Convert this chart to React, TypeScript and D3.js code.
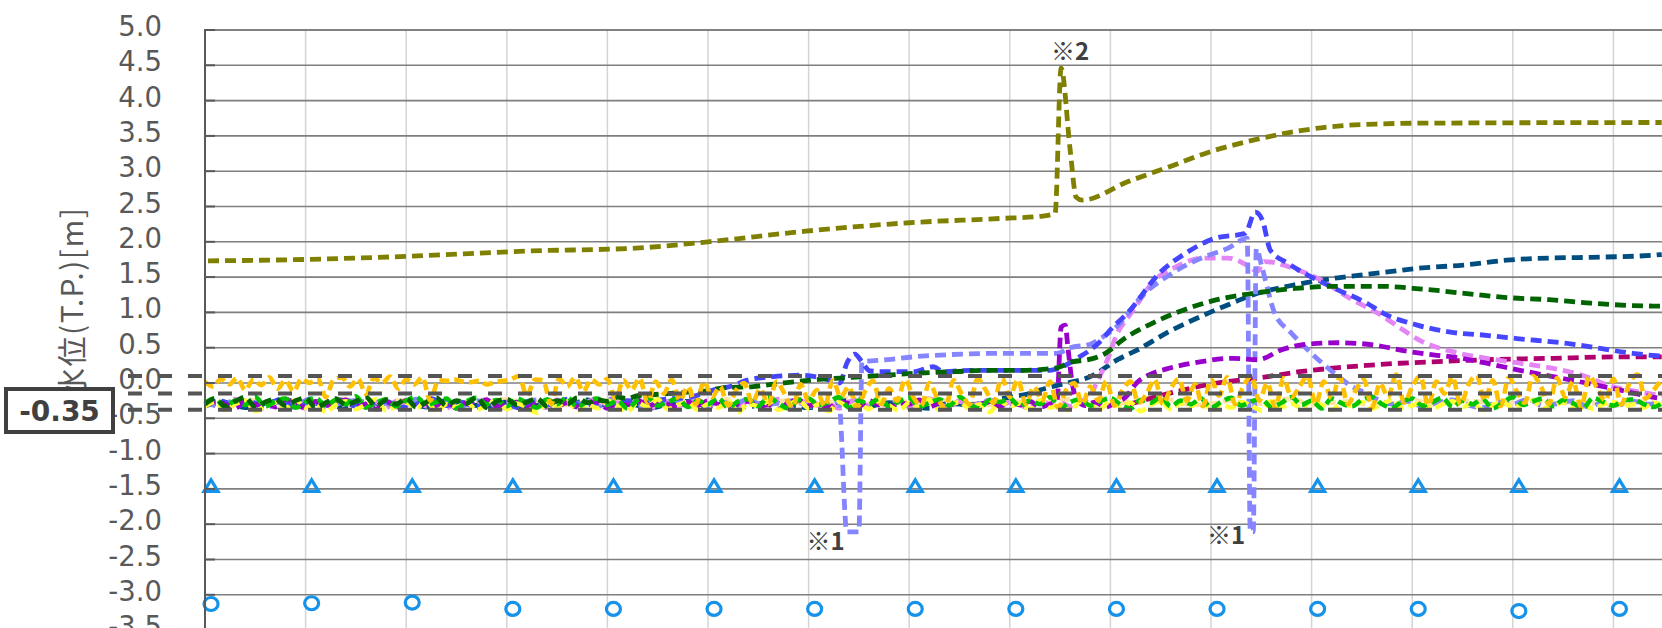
import React from "react";
import * as d3 from "d3";

const WIDTH = 1662;
const HEIGHT = 628;

// ---- axis ticks ----
const yTickValues = [5, 4.5, 4, 3.5, 3, 2.5, 2, 1.5, 1, 0.5, 0, -0.5, -1, -1.5, -2, -2.5, -3, -3.5];
const yTickLabels = ["5.0", "4.5", "4.0", "3.5", "3.0", "2.5", "2.0", "1.5", "1.0", "0.5", "0.0", "-0.5", "-1.0", "-1.5", "-2.0", "-2.5", "-3.0", "-3.5"];
const xGridTicks = [0, 1, 2, 3, 4, 5, 6, 7, 8, 9, 10, 11, 12, 13, 14];
const yTitle = "水位(T.P.)[m]";

// ---- reference levels ----
const refLevels = [0.1, -0.15, -0.38];
const refLabel = "-0.35";

// ---- markers ----
const markerTimes = [0.06, 1.06, 2.06, 3.06, 4.06, 5.06, 6.06, 7.06, 8.06, 9.06, 10.06, 11.06, 12.06, 13.06, 14.06];
const triangleValues = [-1.5, -1.5, -1.5, -1.5, -1.5, -1.5, -1.5, -1.5, -1.5, -1.5, -1.5, -1.5, -1.5, -1.5, -1.5];
const circleValues = [-3.13, -3.12, -3.11, -3.2, -3.2, -3.2, -3.2, -3.2, -3.2, -3.2, -3.2, -3.2, -3.2, -3.23, -3.2];

// ---- annotations ----
const notes = [
  { text: "※2", t: 8.41, v: 4.58 },
  { text: "※1", t: 5.98, v: -2.37 },
  { text: "※1", t: 9.96, v: -2.28 },
];

// ---- smooth series (time, value) ----
const olivePoints: [number, number][] = [
  [0.03, 1.73], [1.0, 1.75], [1.94, 1.79], [3.23, 1.87], [4.28, 1.91], [5.0, 2.0], [5.97, 2.15], [7.0, 2.27],
  [7.9, 2.33], [8.3, 2.36], [8.45, 2.4], [8.51, 4.46], [8.6, 3.3], [8.66, 2.63], [8.72, 2.59], [9.17, 2.85],
  [9.58, 3.06], [10.0, 3.28], [10.42, 3.44], [10.83, 3.56], [11.26, 3.64], [11.68, 3.67], [12.1, 3.68], [14.48, 3.69],
];

const blueTrend: [number, number][] = [
  [4.82, -0.2], [5.05, -0.1], [5.22, -0.05], [5.39, 0.04], [5.65, 0.09], [5.91, 0.11], [6.16, 0.06], [6.31, 0.0],
  [6.38, 0.28], [6.46, 0.41], [6.53, 0.3], [6.61, 0.17], [6.78, 0.16], [7.04, 0.16], [7.24, 0.23], [7.34, 0.16],
  [7.6, 0.18], [8.4, 0.18], [8.47, 0.2], [8.67, 0.35], [8.87, 0.55], [9.03, 0.8], [9.17, 0.99], [9.49, 1.56],
  [9.75, 1.84], [10.04, 2.05], [10.34, 2.12], [10.44, 2.42], [10.51, 2.31], [10.59, 1.88], [10.76, 1.7], [11.0, 1.5],
  [11.26, 1.32], [11.55, 1.13], [11.71, 0.99], [12.05, 0.82], [12.38, 0.72], [12.7, 0.68], [13.04, 0.63],
  [13.54, 0.56], [13.87, 0.49], [14.19, 0.42], [14.48, 0.38],
];

const lightBlueTrend: [number, number][] = [
  [6.38, -2.11], [6.5, -2.11], [6.53, 0.3], [6.78, 0.33], [7.04, 0.37], [7.37, 0.4], [7.9, 0.42], [8.47, 0.42],
  [8.6, 0.5], [8.8, 0.55], [8.9, 0.63], [9.1, 0.85], [9.28, 1.18], [9.62, 1.56], [9.92, 1.78], [10.17, 1.91],
  [10.36, 2.05], [10.39, -2.11], [10.42, -2.11], [10.45, 1.9], [10.51, 1.62], [10.63, 1.0], [10.79, 0.72],
  [10.94, 0.5], [11.09, 0.3], [11.24, 0.12], [11.38, -0.03], [11.53, -0.14], [11.68, -0.25],
];

const pinkTrend: [number, number][] = [
  [8.83, -0.1], [8.97, 0.33], [9.07, 0.71], [9.17, 0.92], [9.26, 1.1], [9.41, 1.41], [9.66, 1.65], [9.92, 1.77],
  [10.17, 1.77], [10.38, 1.65], [10.46, 1.58], [10.53, 1.72], [10.83, 1.62], [11.09, 1.46], [11.38, 1.2],
  [11.68, 0.97], [11.88, 0.78], [12.08, 0.6], [12.41, 0.44], [12.74, 0.35], [13.07, 0.28], [13.39, 0.21],
  [13.73, 0.09], [13.94, -0.03], [14.23, -0.12], [14.48, -0.18],
];

const darkGreenTrend: [number, number][] = [
  [4.4, -0.17], [4.6, -0.15], [4.8, -0.13], [4.95, -0.12], [5.15, -0.07], [5.45, -0.05], [5.75, 0.0], [6.1, 0.05],
  [6.43, 0.08], [6.76, 0.11], [7.1, 0.14], [7.45, 0.16], [7.77, 0.18], [8.11, 0.18], [8.45, 0.21], [8.62, 0.3],
  [8.78, 0.33], [8.95, 0.42], [9.12, 0.61], [9.45, 0.87], [9.78, 1.06], [10.06, 1.18], [10.42, 1.27], [10.84, 1.34],
  [11.26, 1.37], [11.68, 1.37], [12.1, 1.33], [12.52, 1.27], [12.94, 1.21], [13.36, 1.18], [13.78, 1.13],
  [14.4, 1.09], [14.48, 1.09],
];

const tealTrend: [number, number][] = [
  [8.3, -0.1], [8.57, 0.0], [8.8, 0.09], [9.07, 0.33], [9.27, 0.47], [9.56, 0.71], [9.99, 1.0], [10.19, 1.12],
  [10.42, 1.25], [10.83, 1.39], [11.26, 1.49], [11.68, 1.56], [12.1, 1.63], [12.51, 1.67], [12.94, 1.74],
  [13.36, 1.77], [13.78, 1.78], [14.4, 1.81], [14.48, 1.82],
];

const purpleTrend: [number, number][] = [
  [8.47, -0.24], [8.51, 0.79], [8.55, 0.82], [8.58, 0.47], [8.62, 0.0], [8.67, -0.24], [8.75, -0.32], [8.85, -0.27],
  [8.95, -0.34], [9.05, -0.28], [9.15, -0.2], [9.26, 0.0], [9.39, 0.12], [9.56, 0.2], [9.89, 0.3], [10.22, 0.35],
  [10.46, 0.33], [10.72, 0.48], [10.95, 0.55], [11.28, 0.57], [11.61, 0.54], [11.95, 0.45], [12.21, 0.4],
  [12.45, 0.36], [12.74, 0.28], [13.07, 0.18], [13.4, 0.09], [13.73, 0.0], [14.07, -0.1], [14.39, -0.2], [14.48, -0.22],
];

const magentaTrend: [number, number][] = [
  [9.19, -0.3], [9.72, -0.1], [10.06, 0.0], [10.47, 0.07], [10.88, 0.16], [11.21, 0.21], [11.55, 0.25],
  [11.88, 0.28], [12.21, 0.3], [12.74, 0.33], [13.4, 0.35], [14.07, 0.37], [14.48, 0.37],
];

// ---- noisy readings (evenly spaced samples) ----
const orangeValues = [
  0.02, -0.05, 0.06, -0.02, 0.07, -0.1, 0.05, -0.03, 0.08, -0.08,
  0.04, -0.12, 0.06, 0.0, 0.07, -0.2, 0.05, 0.08, -0.05, 0.06,
  -0.15, 0.07, 0.0, 0.09, -0.08, 0.05, -0.02, 0.08, -0.25, 0.04,
  0.03, 0.05, 0.02, 0.01, 0.03, -0.02, 0.01, 0.03, 0.05, 0.1,
  -0.18, 0.05, 0.04, -0.3, 0.06, -0.05, 0.08, -0.12, 0.05, -0.02,
  0.06, -0.22, 0.04, -0.1, 0.07, -0.28, 0.02, -0.15, 0.05, -0.25,
  -0.05, -0.3, 0.02, -0.2, -0.05, -0.32, -0.1, 0.0, -0.28, -0.08,
  -0.3, 0.02, -0.15, -0.35, -0.02, -0.25, -0.1, -0.33, 0.04, -0.2,
  -0.05, -0.35, -0.12, 0.03, -0.3, -0.08, -0.25, 0.05, -0.2, -0.32,
  0.0, -0.22, -0.35, 0.04, -0.15, -0.3, 0.06, -0.1, -0.28, 0.08,
  -0.2, 0.05, -0.3, -0.05, -0.25, 0.02, -0.35, -0.1, 0.0, -0.3,
  -0.05, -0.25, 0.03, -0.32, -0.1, 0.02, -0.28, -0.15, 0.05, -0.3,
  -0.08, 0.06, -0.25, -0.02, -0.33, 0.05, -0.18, 0.08, -0.3, -0.05,
  0.1, -0.25, 0.0, -0.35, 0.07, -0.2, -0.05, 0.1, -0.3, 0.02,
  -0.22, 0.08, -0.3, -0.1, 0.05, -0.35, 0.0, -0.2, 0.12, -0.28,
  -0.05, 0.1, -0.32, 0.02, -0.15, 0.09, -0.3, -0.02, 0.11, -0.25,
  0.04, -0.33, 0.08, -0.12, -0.28, 0.1, -0.05, -0.3, 0.07, -0.2,
  0.02, -0.35, 0.1, -0.08, -0.25, 0.06, -0.3, 0.0, 0.12, -0.22, -0.1, 0.05,
];

const greenValues = [
  -0.28, -0.22, -0.34, -0.25, -0.31, -0.2, -0.33, -0.26, -0.22, -0.35,
  -0.27, -0.21, -0.32, -0.24, -0.3, -0.19, -0.35, -0.28, -0.23, -0.33,
  -0.25, -0.2, -0.31, -0.27, -0.22, -0.36, -0.26, -0.21, -0.3, -0.24,
  -0.33, -0.22, -0.28, -0.35, -0.23, -0.3, -0.2, -0.34, -0.26, -0.22,
  -0.31, -0.25, -0.36, -0.24, -0.2, -0.32, -0.27, -0.22, -0.34, -0.25,
  -0.3, -0.21, -0.35, -0.26, -0.23, -0.33, -0.2, -0.29, -0.36, -0.24,
  -0.22, -0.31, -0.27, -0.2, -0.35, -0.25, -0.3, -0.22, -0.33, -0.26,
  -0.21, -0.34, -0.28, -0.23, -0.32, -0.2, -0.3, -0.36, -0.24, -0.27,
  -0.22, -0.33, -0.25, -0.3, -0.2, -0.35, -0.27, -0.23, -0.32, -0.26,
  -0.21, -0.31, -0.36, -0.24, -0.28, -0.2, -0.33, -0.25, -0.3, -0.22,
  -0.35, -0.27, -0.21, -0.32, -0.26, -0.23, -0.34, -0.28, -0.2, -0.31,
  -0.25, -0.36, -0.22, -0.29, -0.33, -0.24, -0.2, -0.3, -0.35, -0.26,
  -0.22, -0.32, -0.27, -0.21, -0.34, -0.25, -0.3, -0.23, -0.36, -0.28,
  -0.2, -0.31, -0.26, -0.22, -0.33, -0.24, -0.29, -0.35, -0.21, -0.27,
  -0.32, -0.25, -0.23, -0.3, -0.34, -0.26,
];

const yellowValues = [
  -0.33, -0.27, -0.38, -0.3, -0.25, -0.4, -0.32, -0.28, -0.36, -0.24,
  -0.35, -0.29, -0.41, -0.31, -0.26, -0.37, -0.3, -0.23, -0.39, -0.33,
  -0.28, -0.36, -0.25, -0.4, -0.3, -0.34, -0.27, -0.38, -0.31, -0.24,
  -0.37, -0.29, -0.35, -0.42, -0.28, -0.33, -0.26, -0.39, -0.3, -0.36,
  -0.25, -0.32, -0.4, -0.28, -0.34, -0.23, -0.37, -0.31, -0.27, -0.38,
  -0.3, -0.35, -0.25, -0.41, -0.29, -0.33, -0.26, -0.38, -0.32, -0.24,
  -0.36, -0.3, -0.4, -0.27, -0.34, -0.29, -0.37, -0.25, -0.32, -0.39,
  -0.28, -0.35, -0.23, -0.38, -0.31, -0.27, -0.36, -0.3, -0.41, -0.26,
  -0.33, -0.29, -0.37, -0.24, -0.35, -0.3, -0.39, -0.27, -0.32, -0.36,
  -0.25, -0.34, -0.28, -0.4, -0.31, -0.26, -0.37, -0.29, -0.33, -0.24,
  -0.38, -0.3, -0.35, -0.27, -0.32, -0.39, -0.26, -0.34, -0.29, -0.36,
  -0.25, -0.31, -0.38, -0.28, -0.33, -0.27, -0.36, -0.3, -0.24, -0.35,
  -0.32, -0.28, -0.37, -0.3, -0.26, -0.34, -0.29, -0.38, -0.31, -0.27,
  -0.35, -0.3, -0.25, -0.36, -0.32, -0.28, -0.34, -0.29, -0.37, -0.3,
  -0.27, -0.33, -0.3, -0.35, -0.28, -0.32,
];

const paleValues = [
  -0.26, -0.3, -0.23, -0.28, -0.32, -0.25, -0.29, -0.22, -0.31, -0.27,
  -0.24, -0.3, -0.26, -0.32, -0.28, -0.23, -0.29, -0.25, -0.31, -0.27,
  -0.3, -0.24, -0.28, -0.32, -0.26, -0.29, -0.23, -0.31, -0.27, -0.25,
  -0.3, -0.28, -0.22, -0.29, -0.32, -0.26, -0.3, -0.24, -0.28, -0.31,
  -0.25, -0.29, -0.27, -0.23, -0.3, -0.32, -0.26, -0.28, -0.24, -0.31,
  -0.29, -0.25, -0.3, -0.27, -0.22, -0.31, -0.28, -0.26, -0.32, -0.29,
  -0.24, -0.3, -0.27, -0.25, -0.31, -0.28, -0.23, -0.3, -0.26, -0.29,
  -0.32, -0.27, -0.25,
];

const darkGreenNoise = [
  -0.3, -0.22, -0.33, -0.26, -0.2, -0.34, -0.27, -0.23, -0.32, -0.25,
  -0.21, -0.35, -0.28, -0.22, -0.31, -0.26, -0.2, -0.33, -0.24, -0.3,
  -0.22, -0.34, -0.27, -0.21, -0.32, -0.25, -0.29, -0.2, -0.35, -0.26,
  -0.23, -0.31, -0.27, -0.22, -0.33, -0.25, -0.3, -0.21, -0.28, -0.24,
  -0.26, -0.2, -0.22, -0.18,
];

const blueNoise = [
  -0.3, -0.25, -0.34, -0.27, -0.32, -0.23, -0.35, -0.28, -0.31, -0.24,
  -0.33, -0.29, -0.26, -0.35, -0.3, -0.22, -0.32, -0.27, -0.34, -0.25,
  -0.3, -0.36, -0.26, -0.31, -0.23, -0.33, -0.28, -0.3, -0.25, -0.27,
  -0.24, -0.22,
];

const lightBlueNoise = [
  -0.27, -0.33, -0.24, -0.3, -0.36, -0.26, -0.31, -0.22, -0.34, -0.28,
  -0.25, -0.32, -0.29, -0.35, -0.23, -0.3, -0.27, -0.33, -0.25, -0.31,
  -0.36, -0.28, -0.24, -0.32, -0.26, -0.3, -0.34, -0.22, -0.29, -0.33,
  -0.27, -0.24, -0.31, -0.35, -0.26, -0.3, -0.23, -0.32, -0.28, -0.25,
  -0.33, -0.29, -0.26,
];

const lightBlueTail = [
  -0.3, -0.26, -0.33, -0.28, -0.24, -0.31, -0.35, -0.27, -0.3, -0.23,
  -0.32, -0.29, -0.25, -0.34, -0.28, -0.31, -0.26, -0.3, -0.27,
];

const pinkNoise = [
  -0.31, -0.26, -0.34, -0.23, -0.29, -0.35, -0.27, -0.32, -0.24, -0.3,
  -0.36, -0.28, -0.25, -0.33, -0.29, -0.22, -0.31, -0.27, -0.35, -0.26,
  -0.3, -0.24, -0.33, -0.28, -0.36, -0.25, -0.31, -0.29, -0.23, -0.34,
  -0.27, -0.32, -0.26, -0.3, -0.35, -0.24, -0.29, -0.33, -0.27, -0.22,
  -0.31, -0.28, -0.34, -0.25, -0.3, -0.36, -0.26, -0.32, -0.29, -0.24,
  -0.33, -0.27, -0.3, -0.35, -0.25, -0.31, -0.28, -0.23, -0.34, -0.29,
  -0.26, -0.32, -0.3, -0.36, -0.27, -0.24, -0.33, -0.29, -0.31, -0.25,
  -0.35, -0.28, -0.22, -0.3, -0.34, -0.26, -0.32, -0.29, -0.24, -0.33,
  -0.27, -0.31, -0.36, -0.25, -0.3, -0.28, -0.33, -0.26, -0.2,
];

const purpleNoise = [
  -0.33, -0.27, -0.3, -0.36, -0.25, -0.31, -0.28, -0.34, -0.23, -0.3,
  -0.35, -0.26, -0.32, -0.29, -0.24, -0.33, -0.3, -0.37, -0.27, -0.31,
  -0.25, -0.34, -0.29, -0.32, -0.26, -0.36, -0.28, -0.3, -0.24, -0.33,
  -0.31, -0.27, -0.35, -0.29, -0.25, -0.32, -0.28, -0.34, -0.3, -0.26,
  -0.36, -0.29, -0.31, -0.24, -0.33, -0.28, -0.3, -0.35, -0.27, -0.32,
  -0.25, -0.3, -0.34, -0.29, -0.26, -0.33, -0.31, -0.37, -0.28, -0.24,
  -0.32, -0.3, -0.35, -0.27, -0.29, -0.33, -0.25, -0.31, -0.36, -0.28,
  -0.3, -0.24, -0.34, -0.29, -0.32, -0.26, -0.35, -0.3, -0.27, -0.33,
  -0.29, -0.31, -0.26, -0.34, -0.3,
];

const tealNoise = [
  -0.32, -0.27, -0.35, -0.29, -0.24, -0.33, -0.3, -0.36, -0.26, -0.31,
  -0.28, -0.34, -0.25, -0.3, -0.33, -0.27, -0.35, -0.29, -0.31, -0.24,
  -0.32, -0.28, -0.36, -0.3, -0.26, -0.33, -0.29, -0.34, -0.27, -0.31,
  -0.35, -0.3, -0.25, -0.33, -0.28, -0.32, -0.36, -0.29, -0.31, -0.26,
  -0.2, -0.15,
];

type P = [number, number];
const sampled = (values: number[], start: number, step: number): P[] =>
  values.map((v, i) => [start + i * step, v] as P);

const FONT_NUM = "'DejaVu Sans', Verdana, sans-serif";
const FONT_JP = "'Noto Sans CJK JP', 'Noto Sans', sans-serif";

export default function App() {
  const x = d3.scaleLinear().domain([0, 14.483]).range([205, 1662]);
  const y = d3.scaleLinear().domain([-3.5, 5]).range([630.1, 30]);
  const line = d3
    .line<P>()
    .x((d) => x(d[0]))
    .y((d) => y(d[1]))
    .curve(d3.curveMonotoneX);

  const TW = 4.8; // trend line width
  const NW = 4.6; // noisy line width
  const series = [
    { pts: sampled(paleValues, 0, 0.2), color: "#FFE0A6", w: NW, dash: "10,5" },
    { pts: [...sampled(tealNoise, 0, 0.2), ...tealTrend], color: "#004E80", w: TW, dash: "11,6" },
    { pts: magentaTrend, color: "#B0006E", w: TW, dash: "11,6" },
    { pts: [...sampled(pinkNoise, 0, 0.1), ...pinkTrend], color: "#E585F5", w: TW, dash: "11,6" },
    {
      pts: [...sampled(lightBlueNoise, 0, 0.15), ...lightBlueTrend, ...sampled(lightBlueTail, 11.8, 0.15)],
      color: "#8585FF",
      w: TW,
      dash: "11,6",
    },
    { pts: [...sampled(blueNoise, 0, 0.15), ...blueTrend], color: "#4646FF", w: TW, dash: "11,6" },
    { pts: [...sampled(purpleNoise, 0, 0.1), ...purpleTrend], color: "#9A00CC", w: TW, dash: "11,6" },
    { pts: sampled(yellowValues, 0, 0.1), color: "#FFFF33", w: NW, dash: "10,5" },
    { pts: sampled(greenValues, 0, 0.1), color: "#00C400", w: NW, dash: "10,5" },
    { pts: [...sampled(darkGreenNoise, 0, 0.1), ...darkGreenTrend], color: "#006400", w: TW, dash: "11,6" },
    { pts: sampled(orangeValues, 0, 0.08), color: "#FFC000", w: NW, dash: "10,5" },
    { pts: olivePoints, color: "#808000", w: TW, dash: "11,6" },
  ];

  const markerColor = "#1592EA";

  return (
    <svg
      width={WIDTH}
      height={HEIGHT}
      viewBox={`0 0 ${WIDTH} ${HEIGHT}`}
      style={{ position: "absolute", left: 0, top: 0, background: "#fff", display: "block" }}
    >
      <rect x={0} y={0} width={WIDTH} height={HEIGHT} fill="#ffffff" />

      {/* vertical grid */}
      {xGridTicks.slice(1).map((t) => (
        <line key={`vx${t}`} x1={x(t)} x2={x(t)} y1={y(5)} y2={HEIGHT} stroke="#d4d4d4" strokeWidth={1.5} />
      ))}

      {/* horizontal grid */}
      {yTickValues.slice(1).map((v) => (
        <line key={`hy${v}`} x1={x(0)} x2={WIDTH} y1={y(v)} y2={y(v)} stroke="#7f7f7f" strokeWidth={1.6} />
      ))}
      <line x1={x(0)} x2={WIDTH} y1={y(5)} y2={y(5)} stroke="#595959" strokeWidth={1.6} />

      {/* y axis title */}
      <text
        transform={`translate(70,398) rotate(-90)`}
        textAnchor="start"
        dominantBaseline="central"
        fontFamily={FONT_JP}
        fontSize={30}
        textLength={190}
        lengthAdjust="spacing"
        fill="#595959"
      >
        {yTitle}
      </text>

      {/* y tick labels */}
      {yTickValues.map((v, i) => (
        <text
          key={`yl${v}`}
          x={162}
          y={y(v) - 4}
          textAnchor="end"
          dominantBaseline="central"
          fontFamily={FONT_NUM}
          fontSize={27.5}
          fill="#595959"
        >
          {yTickLabels[i]}
        </text>
      ))}

      {/* series */}
      <g fill="none" strokeLinejoin="round">
        {series.map((s, i) => (
          <path key={`s${i}`} d={line(s.pts) || ""} stroke={s.color} strokeWidth={s.w} strokeDasharray={s.dash} />
        ))}
      </g>

      {/* reference dashed levels */}
      {refLevels.map((v) => (
        <line
          key={`ref${v}`}
          x1={128}
          x2={WIDTH}
          y1={y(v)}
          y2={y(v)}
          stroke="#555555"
          strokeWidth={4}
          strokeDasharray="14,16"
        />
      ))}

      {/* markers */}
      {markerTimes.map((t, i) => {
        const cx = x(t);
        const cy = y(triangleValues[i]);
        return (
          <path
            key={`tri${i}`}
            d={`M${cx},${cy - 9} L${cx + 7},${cy + 2.5} L${cx - 7},${cy + 2.5} Z`}
            fill="none"
            stroke={markerColor}
            strokeWidth={3.2}
            strokeLinejoin="miter"
          />
        );
      })}
      {markerTimes.map((t, i) => (
        <ellipse
          key={`cir${i}`}
          cx={x(t)}
          cy={y(circleValues[i])}
          rx={7}
          ry={6.5}
          fill="none"
          stroke={markerColor}
          strokeWidth={3.2}
        />
      ))}

      {/* axis spine and ticks */}
      <line x1={x(0)} x2={x(0)} y1={y(5) - 1} y2={HEIGHT} stroke="#595959" strokeWidth={2} />
      {yTickValues.map((v) => (
        <line key={`tk${v}`} x1={x(0)} x2={x(0) + 10} y1={y(v)} y2={y(v)} stroke="#595959" strokeWidth={2} />
      ))}

      {/* annotations */}
      {notes.map((n, i) => (
        <text
          key={`n${i}`}
          x={x(n.t)}
          y={y(n.v)}
          fontFamily={FONT_JP}
          fontWeight="bold"
          fontSize={24}
          fill="#404040"
        >
          {n.text}
        </text>
      ))}

      {/* reference label box */}
      <rect x={6} y={389} width={107} height={43} fill="#ffffff" stroke="#404040" strokeWidth={4} />
      <text
        x={59.5}
        y={411}
        textAnchor="middle"
        dominantBaseline="central"
        fontFamily={FONT_NUM}
        fontWeight="bold"
        fontSize={28}
        fill="#404040"
      >
        {refLabel}
      </text>
    </svg>
  );
}
